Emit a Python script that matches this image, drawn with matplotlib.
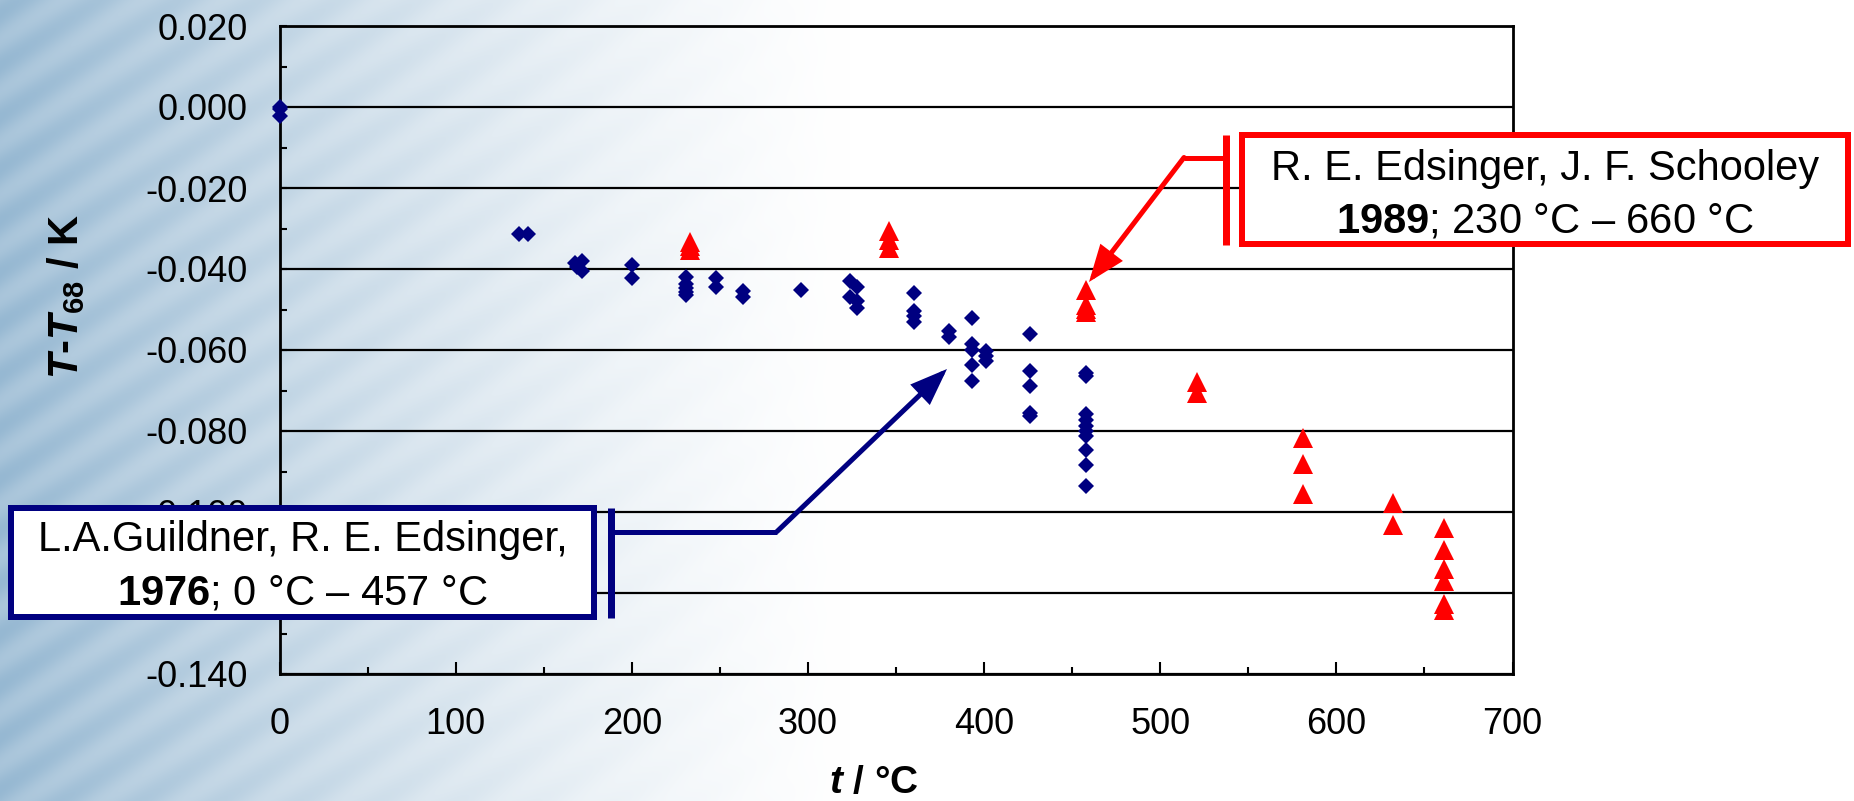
import numpy as np
import matplotlib
matplotlib.use("Agg")
import matplotlib.pyplot as plt
from matplotlib.patches import Rectangle, FancyArrowPatch, ArrowStyle
from matplotlib.lines import Line2D
from matplotlib.ticker import MultipleLocator, FuncFormatter

plt.rcParams['font.family'] = ['Liberation Sans', 'DejaVu Sans']
plt.rcParams['mathtext.fontset'] = 'custom'
plt.rcParams['mathtext.rm'] = 'Liberation Sans'
plt.rcParams['mathtext.it'] = 'Liberation Sans:italic'
plt.rcParams['mathtext.bf'] = 'Liberation Sans:bold'
plt.rcParams['mathtext.bfit'] = 'Liberation Sans:italic:bold'

# ---------------- data ----------------
# Guildner & Edsinger 1976 (blue diamonds)
gu_t = [0, 0, 0, 136, 141, 168, 169, 172, 172, 200, 200,
        231, 231, 231, 231, 231, 248, 248, 263, 263, 296,
        324, 328, 324, 328, 328, 360, 360, 360, 360, 380, 380,
        393, 393, 393, 393, 393, 401, 401, 401,
        426, 426, 426, 426, 426,
        458, 458, 458, 458, 458, 458, 458, 458, 458, 458]
gu_dT = [0.0, -0.0005, -0.0022, -0.0313, -0.0313, -0.0384, -0.0394, -0.0381, -0.0405, -0.0390, -0.0421,
         -0.0420, -0.0436, -0.0447, -0.0457, -0.0463, -0.0422, -0.0444, -0.0455, -0.0468, -0.0453,
         -0.0430, -0.0444, -0.0469, -0.0480, -0.0496, -0.0460, -0.0504, -0.0517, -0.0531, -0.0554, -0.0567,
         -0.0522, -0.0586, -0.0599, -0.0636, -0.0677, -0.0603, -0.0615, -0.0628,
         -0.0560, -0.0652, -0.0688, -0.0755, -0.0762,
         -0.0658, -0.0663, -0.0759, -0.0772, -0.0788, -0.0800, -0.0813, -0.0846, -0.0885, -0.0936]

# Edsinger & Schooley 1989 (red triangles)
es_t = [233, 233, 233, 346, 346, 346, 458, 458, 458, 458, 521, 521,
        581, 581, 581, 632, 632, 661, 661, 661, 661, 661, 661]
es_dT = [-0.0333, -0.0342, -0.0352, -0.0307, -0.0328, -0.0348,
         -0.0451, -0.0488, -0.0498, -0.0506, -0.0680, -0.0706,
         -0.0818, -0.0881, -0.0955, -0.0977, -0.1033,
         -0.1039, -0.1095, -0.1140, -0.1171, -0.1226, -0.1243]

x_ticks = [0, 100, 200, 300, 400, 500, 600, 700]
y_label_txt = r'$\mathbfit{T}$-$\mathbfit{T}_{\mathbf{68}}$ / K'
x_label_txt = r'$\mathbfit{t}$ / °C'
blue_lines = ['L.A.Guildner, R. E. Edsinger,', r'$\mathbf{1976}$; 0 °C – 457 °C']
red_lines = ['R. E. Edsinger, J. F. Schooley', r'$\mathbf{1989}$; 230 °C – 660 °C']

NAVY = '#000080'
RED = '#FF0000'

W, H = 1854, 801
fig = plt.figure(figsize=(W / 100, H / 100), dpi=100)
fig.patch.set_facecolor('white')

# ---------------- background (bluish fade on the left) ----------------
bg = fig.add_axes([0, 0, 1, 1], zorder=-10)
xx, yy = np.meshgrid(np.arange(W), np.arange(H))
f = np.clip(1 - xx / 850.0, 0, 1) ** 1.3
tex = 0.5 + 0.5 * np.sin((xx * 0.55 + yy * 0.85) / 7.0)
f = f * (0.82 + 0.18 * tex)
blue = np.array([150, 184, 210]) / 255.0
img = 1 - (1 - blue)[None, None, :] * f[:, :, None]
bg.imshow(img, aspect='auto', extent=[0, W, H, 0])
bg.set_xlim(0, W); bg.set_ylim(H, 0)
bg.axis('off')

# ---------------- main axes ----------------
L, R, T, B = 279.5, 1512.5, 26.0, 674.0
ax = fig.add_axes([L / W, (H - B) / H, (R - L) / W, (B - T) / H])
ax.patch.set_alpha(0)

ax.plot(gu_t, gu_dT, ls='none', marker='D', ms=8.6, mew=0, color=NAVY, zorder=4, clip_on=False)
ax.plot(es_t, es_dT, ls='none', marker='^', ms=14.4, mew=0, color=RED, zorder=5, clip_on=False)

ax.set_xlim(0, 700)
ax.set_ylim(-0.140, 0.020)
ax.xaxis.set_major_locator(MultipleLocator(100))
ax.xaxis.set_minor_locator(MultipleLocator(50))
ax.yaxis.set_major_locator(MultipleLocator(0.02))
ax.yaxis.set_minor_locator(MultipleLocator(0.01))
ax.yaxis.set_major_formatter(FuncFormatter(lambda v, p: f"{round(v, 3) + 0.0:.3f}"))
ax.xaxis.set_major_formatter(FuncFormatter(lambda v, p: f"{int(round(v))}"))

ax.grid(axis='y', which='major', color='black', lw=1.6, zorder=1)
ax.set_axisbelow(True)
for s in ax.spines.values():
    s.set_linewidth(2.0)
    s.set_color('black')

ax.tick_params(axis='x', which='major', direction='in', length=8.6, width=1.5, labelsize=26, pad=24)
ax.tick_params(axis='x', which='minor', direction='in', length=5, width=1.5)
ax.tick_params(axis='y', which='major', direction='in', length=5, width=1.5, labelsize=26, pad=23)
ax.tick_params(axis='y', which='minor', direction='in', length=5, width=1.5)

# ---------------- axis labels ----------------
def fx(x):
    return x / W

def fy(y):
    return 1 - y / H

fig.text(fx(66), fy(297), y_label_txt, rotation=90, fontsize=30, fontweight='bold',
         ha='center', va='center')
fig.text(fx(874), fy(783), x_label_txt, fontsize=28, fontweight='bold',
         ha='center', va='center')

# ---------------- annotations ----------------
def box(x0, y0, x1, y1, color, lw_px):
    h = lw_px / 2
    r = Rectangle((fx(x0 + h), fy(y1 - h)), fx(x1 - x0 - 2 * h), (y1 - y0 - 2 * h) / H,
                  transform=fig.transFigure, facecolor='white', edgecolor=color,
                  linewidth=lw_px * 0.72, zorder=20)
    fig.add_artist(r)

def seg(pts, color, lw_px):
    xs = [fx(p[0]) for p in pts]
    ys = [fy(p[1]) for p in pts]
    fig.add_artist(Line2D(xs, ys, transform=fig.transFigure, color=color,
                          lw=lw_px * 0.72, solid_capstyle='butt', zorder=20))

def arrow(p0, p1, color, lw_px):
    a = FancyArrowPatch((fx(p0[0]), fy(p0[1])), (fx(p1[0]), fy(p1[1])),
                        transform=fig.transFigure,
                        arrowstyle=ArrowStyle('-|>', head_length=1.0, head_width=0.38),
                        mutation_scale=20, color=color, lw=lw_px * 0.72,
                        shrinkA=0, shrinkB=0, zorder=20, joinstyle='miter')
    fig.add_artist(a)

# blue (1976)
box(8, 505, 597, 620, NAVY, 6)
fig.text(fx(302.5), fy(551.5), blue_lines[0], fontsize=30, ha='center', va='baseline', zorder=21)
fig.text(fx(302.5), fy(604), blue_lines[1], fontsize=30, ha='center', va='baseline', zorder=21)
seg([(611, 508), (611, 618)], NAVY, 7)
seg([(611, 531.5), (777, 531.5)], NAVY, 5)
arrow((777, 531.5), (947, 369), NAVY, 5)

# red (1989)
box(1239, 132, 1851, 247, RED, 6)
fig.text(fx(1545), fy(180), red_lines[0], fontsize=30, ha='center', va='baseline', zorder=21)
fig.text(fx(1545), fy(232), red_lines[1], fontsize=30, ha='center', va='baseline', zorder=21)
seg([(1226, 135), (1226, 245)], RED, 7)
seg([(1226, 157.5), (1184, 157.5)], RED, 5)
arrow((1184, 157.5), (1089, 282), RED, 5)

fig.savefig('out.png', dpi=100)
